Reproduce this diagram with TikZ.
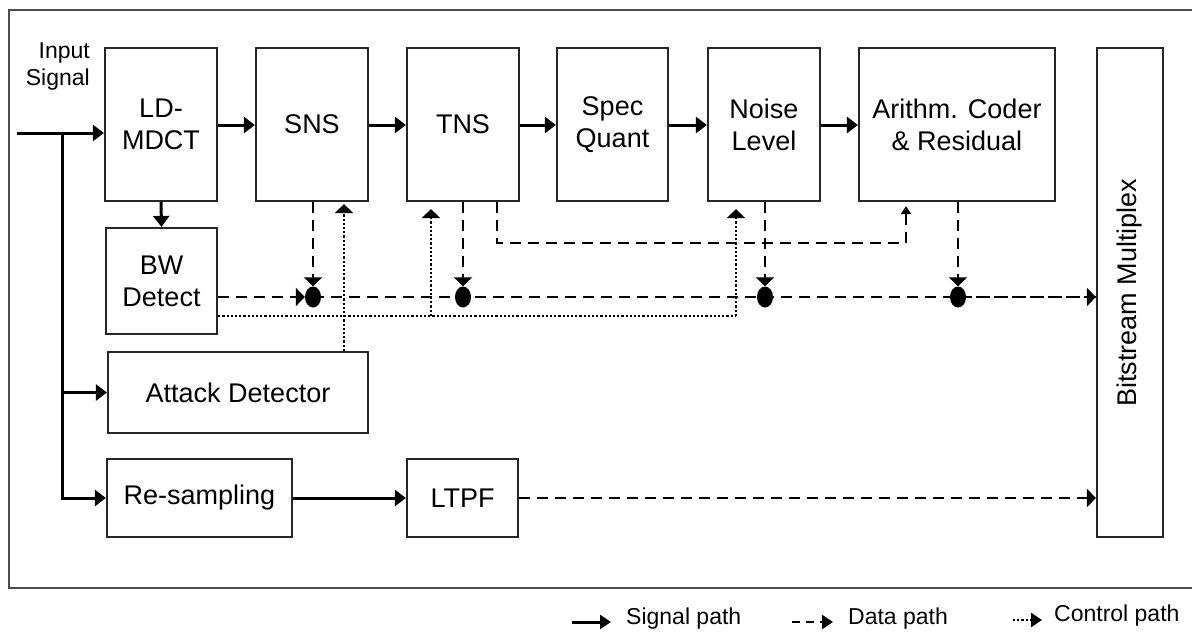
\documentclass[tikz,border=0pt]{standalone}
\usepackage{fontspec}
\setmainfont{Liberation Sans}
\usetikzlibrary{arrows.meta,shapes.geometric}
\newcommand\boxfont{\fontsize{27}{32}\selectfont}
\newcommand\lblfont{\fontsize{23}{27}\selectfont}
\begin{document}
\begin{tikzpicture}[x=1pt,y=-1pt,
  box/.style={draw=black!85, line width=2.2pt, fill=white, align=center, inner sep=0pt, font=\boxfont},
  sig/.style={line width=3pt, -{Triangle[length=11pt,width=16pt]}},
  data/.style={line width=2.8pt, dash pattern=on 11pt off 7pt},
  ctrl/.style={line width=2.5pt, dash pattern=on 2.2pt off 2pt},
  tip/.style={-{Triangle[length=9pt,width=18pt]}},
  smalltip/.style={-{Triangle[length=8pt,width=10pt]}},
  junct/.style={ellipse, fill=black, inner sep=0pt, minimum width=16pt, minimum height=21pt},
  legtxt/.style={anchor=base west, font=\lblfont, inner sep=0pt}]
\useasboundingbox (0,0) rectangle (1192,641);
\fill[white] (0,0) rectangle (1192,641);
% frame
\draw[line width=2.2pt, black!70] (9,10) rectangle (1205,588);

% boxes
\node[box, minimum width=112pt, minimum height=153pt] (mdct) at (161,124.5) {LD-\\MDCT};
\node[box, minimum width=112pt, minimum height=153pt] (sns) at (312,124.5) {SNS};
\node[box, minimum width=112pt, minimum height=153pt] (tns) at (463,124.5) {TNS};
\node[box, minimum width=111pt, minimum height=153pt] (quant) at (612.5,124.5) {Spec\\Quant};
\node[box, minimum width=112pt, minimum height=153pt] (noise) at (764,124.5) {Noise\\Level};
\node[box, minimum width=196pt, minimum height=153pt] (arith) at (957,124.5) {Arithm. Coder\\\& Residual};
\node[box, minimum width=66pt, minimum height=489pt] (mux) at (1130,292.5) {};
\node[rotate=90, font=\boxfont, inner sep=0pt] (muxtext) at (mux.center) {Bitstream Multiplex};
\node[box, minimum width=111pt, minimum height=106pt] (bw) at (161.5,281) {BW\\Detect};
\node[box, minimum width=260pt, minimum height=81pt] (attack) at (238,392.5) {Attack Detector};
\node[box, minimum width=185pt, minimum height=78pt] (resamp) at (199.5,498) {Re-sampling};
\node[box, minimum width=111pt, minimum height=78pt] (ltpf) at (462.5,498) {LTPF};

% input
\node[anchor=east, align=right, font=\lblfont, inner sep=0pt] (inlabel) at (90,66) {Input\\Signal};
\coordinate (inp) at (17,133);
\coordinate (br) at (62,133);
\draw[sig] (inp) -- (inp -| mdct.west);
\draw[sig] (br) |- (attack.west);
\draw[sig] (br) |- (resamp.west);

% signal path
\draw[sig] (mdct.east |- 0,125) -- (sns.west |- 0,125);
\draw[sig] (sns.east |- 0,125) -- (tns.west |- 0,125);
\draw[sig] (tns.east |- 0,125) -- (quant.west |- 0,125);
\draw[sig] (quant.east |- 0,125) -- (noise.west |- 0,125);
\draw[sig] (noise.east |- 0,125) -- (arith.west |- 0,125);
\draw[sig] (mdct.south) -- (bw.north);
\draw[sig] (resamp.east) -- (ltpf.west);

% junction points
\coordinate (j1) at (313,297);
\coordinate (j2) at (463,297);
\coordinate (j3) at (765,297);
\coordinate (j4) at (958,297);

% control paths
\coordinate (c1) at (736,316);
\coordinate (c2) at (431,316);
\coordinate (c3) at (344,316);
\draw[ctrl] (bw.east |- c1) -- (c1);
\draw[ctrl, tip, shorten >=7pt] (c1) -- (noise.south -| c1);
\draw[ctrl, tip, shorten >=7pt] (c2) -- (tns.south -| c2);
\draw[ctrl, tip, shorten >=2pt] (attack.north -| c3) -- (sns.south -| c3);

% data paths
\draw[data] (j1) -- (j1 -| mux.west);
\draw[data, tip] (j4) -- (j4 -| mux.west);
\draw[data, tip] (ltpf.east) -- (ltpf.east -| mux.west);
\coordinate (tq) at (497,243);
\coordinate (aq) at (906,243);
\draw[data] (tns.south -| tq) -- (tq) -- (aq);
\draw[data, smalltip, shorten >=4pt] (aq) -- (arith.south -| aq);

\node[junct] (p1) at (j1) {};
\node[junct] (p2) at (j2) {};
\node[junct] (p3) at (j3) {};
\node[junct] (p4) at (j4) {};
\draw[data, tip] (bw.east |- p1) -- (p1.west);
\draw[data, tip] (sns.south -| p1) -- (p1.north);
\draw[data, tip] (tns.south -| p2) -- (p2.north);
\draw[data, tip] (noise.south -| p3) -- (p3.north);
\draw[data, tip] (arith.south -| p4) -- (p4.north);

% legend
\coordinate (la1) at (572,622);
\coordinate (la2) at (611,622);
\coordinate (lb1) at (792,622);
\coordinate (lb2) at (833,622);
\coordinate (lc1) at (1013,620);
\coordinate (lc2) at (1042,620);
\draw[line width=3pt, -{Triangle[length=11pt,width=14pt]}] (la1) -- (la2);
\draw[line width=2.8pt, dash pattern=on 8pt off 6pt, -{Triangle[length=11pt,width=14pt]}] (lb1) -- (lb2);
\draw[ctrl, -{Triangle[length=11pt,width=14pt]}] (lc1) -- (lc2);
\node[legtxt] (ls) at (626,624) {Signal path};
\node[legtxt] (ld) at (848,624) {Data path};
\node[legtxt] (lc) at (1054,621) {Control path};
\end{tikzpicture}
\end{document}
